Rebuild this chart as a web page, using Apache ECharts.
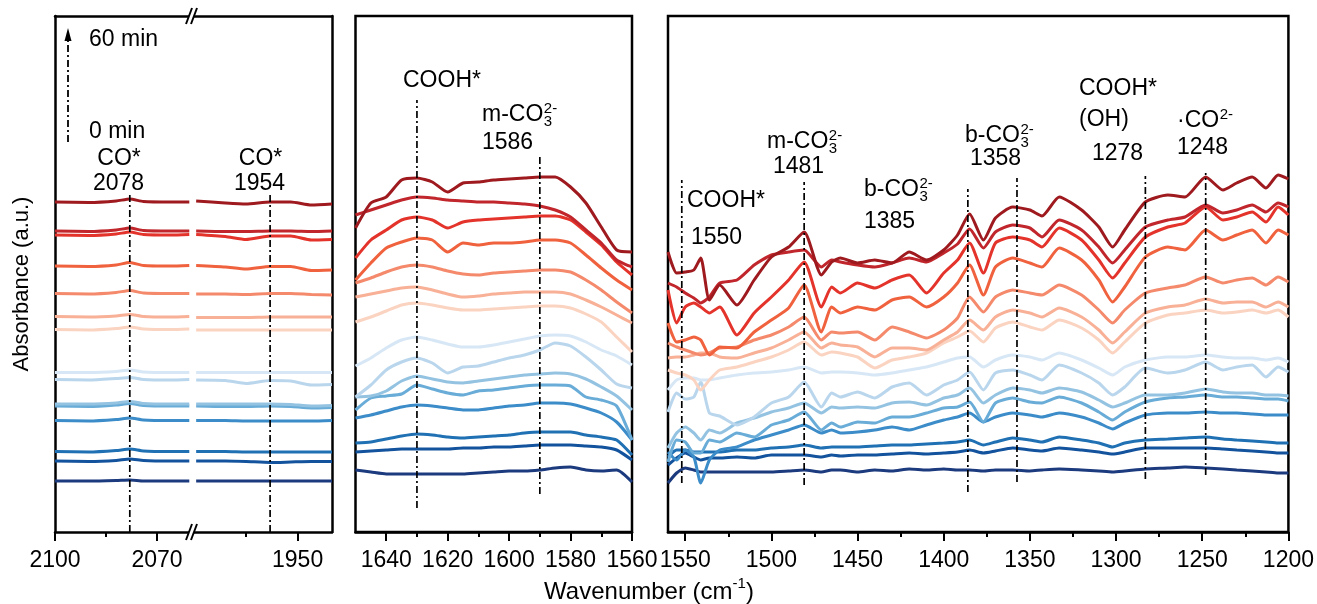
<!DOCTYPE html>
<html><head><meta charset="utf-8">
<script src="https://cdn.jsdelivr.net/npm/echarts@6/dist/echarts.min.js"></script>
<style>html,body{margin:0;padding:0;background:#fff}#c{width:1317px;height:604px}</style>
</head><body><div id="c"></div>
<script>
const FONT = '"Liberation Sans", Arial, sans-serif';

// ---- spectra (15 spectra, 60 min -> 0 min, top to bottom) ----
const spectrumNames = ['60 min','56 min','52 min','47 min','43 min','39 min','34 min','30 min','26 min','21 min','17 min','13 min','8 min','4 min','0 min'];
const colors = ['#9e1a1e','#c0262b','#e4332a','#f0613e','#f48a6b','#f8b097','#fbd3c1','#d7e7f5','#b9d6ed','#94c3e2','#68acd7','#3b8cc8','#2070b4','#13529d','#1c3a7e'];

// wavenumber samples per panel (cm-1)
const X_P1L = [2100, 2090, 2082, 2078, 2074, 2066, 2060.5];
const X_P1R = [1979.5, 1971, 1965, 1958, 1952, 1946, 1940];
const X_P2 = [1650,1645,1640,1635,1630,1625,1620,1615,1610,1605,1600,1595,1590,1585,1580,1575,1570,1565,1560];
const X_P3 = [1560,1555,1550,1545,1541,1536,1530,1520,1510,1500,1490,1481,1471,1465,1460,1450,1440,1430,1420,1410,1400,1392,1385,1377,1370,1360,1350,1343,1333,1320,1310,1302,1295,1283,1270,1260,1248,1238,1230,1221,1213,1206,1200];

// absorbance (a.u., offset-stacked) – panel 1 left segment
const Y_P1L = [
 [330,329.5,331,333,330.5,330,330],
 [301,300.5,302,304,301.5,301,301],
 [297,296.5,298,300,297.5,297,297.5],
 [266,265.5,267,269.5,266.5,266,266.5],
 [238.5,238,239.5,241.5,239,238.5,238.5],
 [215.5,215,216,217.5,215.5,215,215.5],
 [202.5,202,203.5,205,203,202.5,203],
 [159.5,159.5,160.5,162,160,159.5,159.5],
 [152.5,152,153.5,154.5,152.5,152,152.5],
 [128,128,129,130.5,128.5,128,128],
 [126,125.5,127,128.5,126.5,126,126],
 [111.5,111,112.5,114,112,111.5,111.5],
 [80.5,80,81.5,83,81,80.5,80.5],
 [71,70.5,71.5,73,71.5,71,71],
 [51,51,51.5,52,51,51,51]
];
// panel 1 right segment
const Y_P1R = [
 [331,329,328,330,330,327,328],
 [301,300.5,300.5,301,301,300.5,301],
 [297.5,295.5,292.5,296,296,292,292.5],
 [266.5,265,263,265.5,265.5,261.5,262],
 [238,238,237.5,238.5,238.5,237.5,237],
 [214.5,214.5,214.5,215,215,215,215],
 [202,202,202,202,202,202,202],
 [159.5,159.5,159.5,159.5,159.5,159.5,159.5],
 [152,151.5,148.5,151.5,151,147,147.5],
 [128,128,128,128,127.5,126,126.5],
 [126,125.5,125.5,126,125.5,124,124.5],
 [111.5,111.5,111,111,111,111,111.5],
 [80.5,80.5,80,80,80,80,80],
 [71,71,70.5,69.5,70,70.5,70.5],
 [51,51,51,51,51,51,51]
];
// panel 2 (1650-1560)
const Y_P2 = [
 [304,329,335,352,354,350,340,349,350,352,353,354,355,355,345,329,305,282,280],
 [317,322,327,332,335,334,332,331,330,330,329,328,326,322,315,302,289,272,265],
 [274,292,302,312,315,312,304,310,312,313,314,315,316,316,312,300,287,270,257],
 [252,269,284,290,294,292,280,289,287,289,289,290,292,292,289,277,264,252,242],
 [249,254,260,265,267,265,261,258,257,259,260,261,262,262,260,252,242,230,219],
 [235,238,241,244,245,242,238,235,236,238,239,240,240,240,238,232,225,217,209],
 [210,215,221,227,229,227,224,222,222,223,224,225,226,226,224,218,210,195,180],
 [166,174,184,192,195,192,188,185,185,187,190,193,196,197,196,190,182,176,167],
 [135,147,162,170,174,169,159,165,166,170,174,177,182,189,186,175,162,148,144],
 [135,136,141,151,156,153,150,149,151,153,155,157,158,159,158,153,145,136,122],
 [122,134,136,138,147,143,139,137,141,142,144,146,147,147,146,135,132,126,92],
 [114,117,121,125,127,126,124,122,122,124,126,127,129,129,128,124,119,110,92],
 [89,90,93,96,98,97,95,94,95,96,97,99,100,100,100,97,95,92,77],
 [80,81,82,83,83,83,83,84,84,85,85,86,87,87,87,86,85,82,72],
 [62,60,58,58,58,58,58,58,59,60,61,61,62,64,65,62,61,62,50]
];
// panel 3 (1560-1200)
const Y_P3 = [
 [280,259,260,262,274,232,247,227,252,275,285,300,257,270,274,269,272,269,280,272,282,297,318,292,314,325,322,316,335,322,305,285,302,330,337,335,355,342,349,355,344,357,353],
 [249,245,239,234,229,235,249,252,267,277,280,282,265,272,270,267,265,269,274,270,279,288,303,284,300,307,304,295,312,302,285,269,282,305,312,315,327,319,322,327,320,329,325],
 [242,209,225,229,225,219,225,197,219,235,252,270,225,245,239,249,244,252,257,239,259,272,289,259,289,295,292,285,304,292,272,254,269,295,305,309,325,312,315,320,310,325,317],
 [209,190,192,195,192,177,185,184,200,212,224,247,200,225,219,225,222,232,235,225,235,249,267,237,265,274,269,265,284,272,252,230,245,275,285,282,302,292,297,302,289,302,297],
 [189,185,182,179,177,179,184,185,192,197,205,215,192,200,199,200,192,205,200,194,202,214,235,220,235,242,239,237,247,237,222,209,222,239,244,247,255,249,252,254,247,255,250],
 [174,175,175,177,179,179,175,174,179,184,192,200,184,189,187,185,175,184,184,182,192,200,212,202,215,222,219,215,224,215,202,189,200,219,225,227,233,229,230,230,225,230,225],
 [162,159,157,152,142,152,162,165,170,175,182,190,177,180,179,175,164,172,175,179,189,195,201,190,204,210,205,202,212,204,192,179,190,209,217,219,222,219,220,222,219,222,215],
 [142,152,154,154,152,152,154,157,159,160,162,165,159,160,160,159,157,159,162,165,170,174,175,165,172,177,175,172,179,172,164,157,165,172,175,175,177,175,174,174,172,174,170],
 [120,139,133,135,150,119,116,107,115,129,135,150,125,139,135,140,134,145,149,137,147,152,160,142,159,162,157,152,167,159,149,137,145,164,159,162,170,162,165,167,155,165,160],
 [84,99,105,99,92,102,99,109,114,120,124,129,119,125,124,125,124,129,130,127,134,137,144,129,137,144,142,139,144,140,132,125,129,137,137,139,143,140,139,139,137,137,136],
 [70,92,90,79,79,92,90,99,95,107,112,120,102,109,105,110,109,115,115,119,124,125,130,110,129,134,130,129,135,129,120,112,120,130,134,135,137,135,135,134,133,133,131],
 [80,72,82,75,49,72,82,85,92,97,102,107,99,102,99,100,102,105,102,107,112,115,119,110,115,119,117,115,119,115,109,103,109,117,119,119,120,119,119,118,117,117,117],
 [75,82,82,80,80,80,80,82,82,84,85,87,84,85,85,85,86,87,87,88,89,90,92,87,90,94,92,90,95,92,89,85,89,92,93,94,95,93,92,91,90,89,89],
 [67,74,79,75,72,74,74,75,74,77,77,77,75,77,76,77,77,78,79,78,79,80,82,79,81,84,82,81,84,82,80,78,80,84,84,84,84,83,82,81,80,79,79],
 [49,59,64,62,60,60,60,60,60,60,61,62,60,62,62,60,62,61,63,62,63,62,62,61,62,62,61,62,63,62,61,60,61,63,64,65,64,63,62,61,60,59,59]
];

// band-assignment guide lines: panel index, wavenumber, top, bottom (a.u.)
const markerPanel  = [0, 1, 2, 2, 3, 3, 3, 3, 3, 3];
const markerX      = [2078, 1958, 1630, 1590, 1552, 1481, 1386, 1357.5, 1283, 1248];
const markerTop    = [340, 340, 432, 376, 352, 350, 343, 354, 356, 359];
const markerBottom = [0, 0, 24, 38, 49, 47, 40, 50, 53, 57];

// tick labels
const ticksP1L = [2100, 2070], minorP1L = [2085];
const ticksP1R = [1950], minorP1R = [1965];
const ticksP2 = [1640, 1620, 1600, 1580, 1560], minorP2 = [1630, 1610, 1590, 1570];
const ticksP3 = [1550, 1500, 1450, 1400, 1350, 1300, 1250, 1200], minorP3 = [1525, 1475, 1425, 1375, 1325, 1275, 1225];

// annotations
const annoText  = ['60 min','0 min','CO*','2078','CO*','1954','COOH*','1586','COOH*','1550','1481','1385','1358','COOH*','(OH)','1278','1248'];
const annoX     = [89, 89, 119, 118.5, 260.5, 259.5, 403, 482, 687, 691, 773, 864, 970, 1079, 1079, 1092, 1177];
const annoY     = [40, 132, 159, 183.5, 159, 183.5, 81, 143, 201, 238, 167, 222, 159, 89, 120, 154, 148];
const annoAlign = ['left','left','center','center','center','center','left','left','left','left','left','left','left','left','left','left','left'];
const chemMain = ['m-CO', 'm-CO', 'b-CO', 'b-CO', '·CO'];
const chemSub  = ['3', '3', '3', '3', ''];
const chemSup  = ['2-', '2-', '2-', '2-', '2-'];
const chemX    = [482, 767, 864, 965, 1177];
const chemY    = [115, 142, 190, 136, 121];

// ---------------- build ----------------
const BW = 2.5;
const grids = [
  {left: 55, top: 16, width: 136, height: 516},
  {left: 191, top: 16, width: 141, height: 516},
  {left: 355.5, top: 16, width: 276.5, height: 516, show: true, borderColor: '#000', borderWidth: BW},
  {left: 668, top: 16, width: 621, height: 516, show: true, borderColor: '#000', borderWidth: BW}
];
const ranges = [[2060, 2100], [1940, 1981], [1560, 1650], [1200, 1560]];
function mainAx(g, labels) {
  return {type: 'value', gridIndex: g, min: ranges[g][0], max: ranges[g][1], inverse: true, position: 'bottom',
    axisLine: {show: true, onZero: false, lineStyle: {color: '#000', width: BW}},
    axisTick: {show: true, customValues: labels, length: 9, lineStyle: {color: '#000', width: 2}},
    axisLabel: {show: true, customValues: labels, margin: 17, color: '#000', fontSize: 23, fontFamily: FONT,
      formatter: v => String(v)},
    splitLine: {show: false}};
}
function minorAx(g, minors) {
  return {type: 'value', gridIndex: g, min: ranges[g][0], max: ranges[g][1], inverse: true, position: 'bottom',
    axisLine: {show: false, onZero: false},
    axisTick: {show: true, customValues: minors, length: 5, lineStyle: {color: '#000', width: 2}},
    axisLabel: {show: false}, splitLine: {show: false}};
}
function topAx(g) {
  return {type: 'value', gridIndex: g, min: ranges[g][0], max: ranges[g][1], inverse: true, position: 'top',
    axisLine: {show: true, onZero: false, lineStyle: {color: '#000', width: BW}},
    axisTick: {show: false}, axisLabel: {show: false}, splitLine: {show: false}};
}
const xAxis = [
  mainAx(0, ticksP1L), minorAx(0, minorP1L), topAx(0),
  mainAx(1, ticksP1R), minorAx(1, minorP1R), topAx(1),
  mainAx(2, ticksP2), minorAx(2, minorP2),
  mainAx(3, ticksP3), minorAx(3, minorP3)
];
const panelX = [0, 3, 6, 8];
function yAx(g, show, pos) {
  return {type: 'value', gridIndex: g, min: 0, max: 516, position: pos,
    axisLine: {show: show, onZero: false, lineStyle: {color: '#000', width: BW}},
    axisTick: {show: false}, axisLabel: {show: false}, splitLine: {show: false}};
}
const yAxis = [yAx(0, true, 'left'), yAx(1, true, 'right'), yAx(2, false, 'left'), yAx(3, false, 'left')];

const series = [];
const panels = [[X_P1L, Y_P1L], [X_P1R, Y_P1R], [X_P2, Y_P2], [X_P3, Y_P3]];
for (let i = spectrumNames.length - 1; i >= 0; i--) {
  panels.forEach((p, g) => {
    series.push({
      name: spectrumNames[i], type: 'line', xAxisIndex: panelX[g], yAxisIndex: g,
      data: p[0].map((x, k) => [x, p[1][i][k]]),
      symbol: 'none', showSymbol: false, smooth: 0.2, silent: true, z: 2,
      lineStyle: {color: colors[i], width: 3}
    });
  });
}
markerX.forEach((x, m) => {
  const g = markerPanel[m];
  series.push({
    type: 'line', xAxisIndex: panelX[g], yAxisIndex: g, symbol: 'none', silent: true, z: 5,
    data: [[x, markerBottom[m]], [x, markerTop[m]]],
    lineStyle: {color: '#000', width: 1.7, type: [7, 3, 2, 3]}
  });
});

// text graphics
const ctx = document.createElement('canvas').getContext('2d');
function tw(s, px) { ctx.font = px + 'px ' + FONT; return ctx.measureText(s).width; }
const graphic = [];
const AF = 23;
annoText.forEach((t, i) => {
  graphic.push({type: 'text', x: annoX[i], y: annoY[i], z: 10,
    style: {text: t, fill: '#000', font: AF + 'px ' + FONT, align: annoAlign[i], verticalAlign: 'middle'}});
});
chemMain.forEach((t, i) => {
  const w = tw(t, AF);
  graphic.push({type: 'text', x: chemX[i], y: chemY[i], z: 10,
    style: {text: t, fill: '#000', font: AF + 'px ' + FONT, align: 'left', verticalAlign: 'middle'}});
  if (chemSup[i]) graphic.push({type: 'text', x: chemX[i] + w + 0.5, y: chemY[i] - 6, z: 10,
    style: {text: chemSup[i], fill: '#000', font: '15px ' + FONT, align: 'left', verticalAlign: 'middle'}});
  if (chemSub[i]) graphic.push({type: 'text', x: chemX[i] + w + 0.5, y: chemY[i] + 7, z: 10,
    style: {text: chemSub[i], fill: '#000', font: '15px ' + FONT, align: 'left', verticalAlign: 'middle'}});
});
// time arrow
graphic.push({type: 'line', z: 10, shape: {x1: 68, y1: 142, x2: 68, y2: 40},
  style: {stroke: '#000', lineWidth: 1.8, lineDash: [7, 3, 2, 3]}});
graphic.push({type: 'polygon', z: 10, shape: {points: [[68, 28], [64.5, 41], [71.5, 41]]}, style: {fill: '#000'}});
// axis break marks
[16, 532].forEach(y => {
  graphic.push({type: 'polygon', z: 20, shape: {points: [[186, y + 8], [192, y - 8], [197, y - 8], [191, y + 8]]}, style: {fill: '#fff'}});
  graphic.push({type: 'line', z: 21, shape: {x1: 186, y1: y + 8, x2: 192, y2: y - 8}, style: {stroke: '#000', lineWidth: 2}});
  graphic.push({type: 'line', z: 21, shape: {x1: 191, y1: y + 8, x2: 197, y2: y - 8}, style: {stroke: '#000', lineWidth: 2}});
});
// axis titles
graphic.push({type: 'text', x: 22, y: 284, rotation: Math.PI / 2, z: 10,
  style: {text: 'Absorbance (a.u.)', fill: '#000', font: '22px ' + FONT, align: 'center', verticalAlign: 'middle'}});
graphic.push({type: 'text', x: 649, y: 590, z: 10,
  style: {text: '{n|Wavenumber (cm}{s|-1}{n|)}', align: 'center', verticalAlign: 'middle',
    rich: {n: {fontSize: 24, fontFamily: FONT, fill: '#000', verticalAlign: 'bottom', lineHeight: 28},
           s: {fontSize: 15, fontFamily: FONT, fill: '#000', verticalAlign: 'top', lineHeight: 28}}}});

const chart = echarts.init(document.getElementById('c'), null, {renderer: 'canvas'});
chart.setOption({animation: false, backgroundColor: '#fff', grid: grids, xAxis, yAxis, series, graphic});
</script></body></html>
